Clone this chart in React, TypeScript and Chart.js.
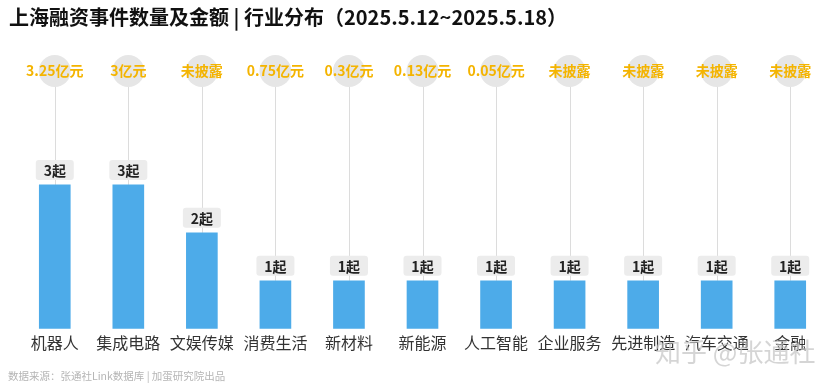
import { useEffect, useRef } from "react";
import { Chart, registerables } from "chart.js";

Chart.register(...registerables);

const categories = ["机器人", "集成电路", "文娱传媒", "消费生活", "新材料", "新能源", "人工智能", "企业服务", "先进制造", "汽车交通", "金融"];
const dealCounts = [3, 3, 2, 1, 1, 1, 1, 1, 1, 1, 1];
const amountLabels = ["3.25亿元", "3亿元", "未披露", "0.75亿元", "0.3亿元", "0.13亿元", "0.05亿元", "未披露", "未披露", "未披露", "未披露"];
const countUnit = "起";
const titleText = "上海融资事件数量及金额 | 行业分布（2025.5.12~2025.5.18）";
const sourceText = "数据来源：张通社Link数据库 | 加蛋研究院出品";
const watermarkText = "知乎 @张通社";

const FONT = "'Noto Sans CJK SC', 'Noto Sans', sans-serif";

const decorPlugin = {
  id: "decor",
  beforeDatasetsDraw(chart: any) {
    const ctx = chart.ctx;
    const meta = chart.getDatasetMeta(0);
    const cy = 71;
    ctx.save();
    meta.data.forEach((bar: any) => {
      ctx.strokeStyle = "#dcdcdc";
      ctx.lineWidth = 1;
      ctx.beginPath();
      ctx.moveTo(Math.round(bar.x) + 0.5, cy);
      ctx.lineTo(Math.round(bar.x) + 0.5, bar.y);
      ctx.stroke();
      ctx.fillStyle = "#e6e6e6";
      ctx.beginPath();
      ctx.arc(bar.x, cy, 16, 0, Math.PI * 2);
      ctx.fill();
    });
    ctx.restore();
  },
  afterDatasetsDraw(chart: any) {
    const ctx = chart.ctx;
    const meta = chart.getDatasetMeta(0);
    const cy = 71;
    ctx.save();
    ctx.textAlign = "center";
    ctx.textBaseline = "middle";
    meta.data.forEach((bar: any, i: number) => {
      ctx.font = `bold 14px ${FONT}`;
      ctx.fillStyle = "#f4b400";
      ctx.fillText(amountLabels[i], bar.x, cy);

      const label = `${dealCounts[i]}${countUnit}`;
      const w = 38;
      const h = 20;
      const bx = bar.x - w / 2;
      const by = bar.y - 25;
      ctx.fillStyle = "#ececec";
      ctx.beginPath();
      (ctx as any).roundRect(bx, by, w, h, 3);
      ctx.fill();
      ctx.fillStyle = "#222222";
      ctx.font = `bold 14px ${FONT}`;
      ctx.fillText(label, bar.x, by + h / 2 + 0.5);
    });
    ctx.restore();
  },
  afterDraw(chart: any) {
    const ctx = chart.ctx;
    ctx.save();
    ctx.textBaseline = "middle";
    ctx.textAlign = "left";
    ctx.fillStyle = "#111111";
    ctx.font = `bold 20px ${FONT}`;
    ctx.fillText(titleText, 9, 17);
    ctx.fillStyle = "#b5b5b5";
    ctx.font = `10.5px ${FONT}`;
    ctx.fillText(sourceText, 8, 376);
    ctx.fillStyle = "rgba(195,195,195,0.7)";
    ctx.font = `26px ${FONT}`;
    ctx.fillText(watermarkText, 655, 352);
    ctx.restore();
  },
};

export default function App() {
  const ref = useRef<HTMLCanvasElement | null>(null);
  useEffect(() => {
    if (!ref.current) return;
    const chart = new Chart(ref.current, {
      type: "bar",
      data: {
        labels: categories,
        datasets: [
          {
            data: dealCounts,
            backgroundColor: "#4dabe9",
            barThickness: 31,
          },
        ],
      },
      options: {
        animation: false,
        responsive: false,
        maintainAspectRatio: false,
        layout: { padding: { top: 41, left: 18, right: 4, bottom: 32 } },
        plugins: {
          legend: { display: false },
          tooltip: { enabled: false },
          title: { display: false },
        },
        scales: {
          x: {
            grid: { display: false, drawTicks: false },
            border: { display: false },
            ticks: {
              color: "#333333",
              font: { family: FONT, size: 16 },
              padding: 5,
              maxRotation: 0,
              autoSkip: false,
            },
          },
          y: {
            display: false,
            min: 0,
            max: 6,
          },
        },
      },
      plugins: [decorPlugin],
    });
    return () => chart.destroy();
  }, []);
  return (
    <div style={{ position: "absolute", left: 0, top: 0, width: 831, height: 390, background: "#ffffff" }}>
      <canvas ref={ref} width={831} height={390} style={{ width: 831, height: 390 }} />
    </div>
  );
}
